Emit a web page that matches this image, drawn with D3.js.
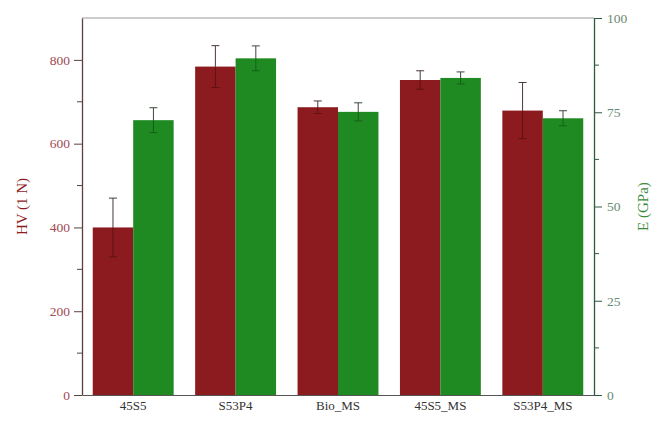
<!DOCTYPE html>
<html>
<head>
<meta charset="utf-8">
<script src="https://cdn.jsdelivr.net/npm/d3@7"></script>
<style>
  html, body { margin: 0; padding: 0; background: #fff; }
  svg { display: block; font-family: "Liberation Serif", "DejaVu Serif", serif; }
</style>
</head>
<body>
<svg id="chart" width="657" height="422"></svg>
<script>
// Samples and measured values
const categories = ["45S5", "S53P4", "Bio_MS", "45S5_MS", "S53P4_MS"];
const hvValues = [400, 784, 687, 752, 679];     // Vickers hardness HV (1 N)
const hvErrors = [70, 50, 15, 22, 67];
const eValues = [72.9, 89.3, 75.1, 84.1, 73.4]; // Elastic modulus E (GPa)
const eErrors = [3.3, 3.3, 2.4, 1.6, 2.0];
const hvTicks = [0, 200, 400, 600, 800];
const hvMinorTicks = [100, 300, 500, 700];
const eTicks = [0, 25, 50, 75, 100];
const eMinorTicks = [12.5, 37.5, 62.5, 87.5];

const redColor = "#8c1b1f";
const greenColor = "#1f8a22";

const margin = { top: 18, right: 63, bottom: 27, left: 82 };
const width = 657, height = 422;
const innerW = width - margin.left - margin.right;
const innerH = height - margin.top - margin.bottom;

const svg = d3.select("#chart");
const g = svg.append("g").attr("transform", `translate(${margin.left},${margin.top})`);

const x = d3.scaleBand().domain(categories).range([0, innerW]).paddingInner(0.21).paddingOuter(0.105);
const xSub = d3.scaleBand().domain(["hv", "e"]).range([0, x.bandwidth()]).padding(0);
const yHV = d3.scaleLinear().domain([0, 900]).range([innerH, 0]);
const yE = d3.scaleLinear().domain([0, 100]).range([innerH, 0]);

// Frame top line
g.append("line")
  .attr("x1", 0).attr("x2", innerW).attr("y1", 0).attr("y2", 0)
  .attr("stroke", "#9a9a9a").attr("stroke-width", 1.2);

// Bars
const groups = g.selectAll(".grp").data(categories).join("g")
  .attr("transform", d => `translate(${x(d)},0)`);

groups.append("rect")
  .attr("x", xSub("hv")).attr("width", xSub.bandwidth())
  .attr("y", (d, i) => yHV(hvValues[i]))
  .attr("height", (d, i) => innerH - yHV(hvValues[i]))
  .attr("fill", redColor);

groups.append("rect")
  .attr("x", xSub("e")).attr("width", xSub.bandwidth())
  .attr("y", (d, i) => yE(eValues[i]))
  .attr("height", (d, i) => innerH - yE(eValues[i]))
  .attr("fill", greenColor);

// Error bars: the upper half stands above the bar, the lower half sits inside it
function errorBar(sel, cx, yTop, yMid, yBot, outer, inner) {
  sel.append("line").attr("x1", cx).attr("x2", cx).attr("y1", yTop).attr("y2", yMid)
    .attr("stroke", outer).attr("stroke-width", 1);
  sel.append("line").attr("x1", cx - 4).attr("x2", cx + 4).attr("y1", yTop).attr("y2", yTop)
    .attr("stroke", outer).attr("stroke-width", 1);
  sel.append("line").attr("x1", cx).attr("x2", cx).attr("y1", yMid).attr("y2", yBot)
    .attr("stroke", inner).attr("stroke-width", 1);
  sel.append("line").attr("x1", cx - 4).attr("x2", cx + 4).attr("y1", yBot).attr("y2", yBot)
    .attr("stroke", inner).attr("stroke-width", 1);
}
groups.each(function(d, i) {
  const sel = d3.select(this);
  const cHV = xSub("hv") + xSub.bandwidth() / 2;
  const cE = xSub("e") + xSub.bandwidth() / 2;
  errorBar(sel, cHV, yHV(hvValues[i] + hvErrors[i]), yHV(hvValues[i]), yHV(hvValues[i] - hvErrors[i]),
    "#4a3a3a", "#5e1216");
  errorBar(sel, cE, yE(eValues[i] + eErrors[i]), yE(eValues[i]), yE(eValues[i] - eErrors[i]),
    "#3a4a3a", "#166018");
});

// Left axis (HV)
const leftAxis = g.append("g")
  .call(d3.axisLeft(yHV).tickValues(hvTicks).tickSize(8).tickPadding(4).tickSizeOuter(0));
leftAxis.select(".domain").attr("stroke", "#5a4040").attr("stroke-width", 1.3);
leftAxis.selectAll(".tick line").attr("stroke", "#5a4040");
leftAxis.selectAll("text").attr("fill", "#a04a52").style("font-size", "13.5px")
  .style("font-family", "Liberation Serif, serif");
g.append("g").selectAll("line").data(hvMinorTicks).join("line")
  .attr("x1", -5).attr("x2", 0).attr("y1", d => yHV(d)).attr("y2", d => yHV(d))
  .attr("stroke", "#5a4040");

// Right axis (E)
const rightAxis = g.append("g").attr("transform", `translate(${innerW},0)`)
  .call(d3.axisRight(yE).tickValues(eTicks).tickSize(8).tickPadding(5).tickSizeOuter(0));
rightAxis.select(".domain").attr("stroke", "#2d5a40").attr("stroke-width", 1.3);
rightAxis.selectAll(".tick line").attr("stroke", "#2d5a40");
rightAxis.selectAll("text").attr("fill", "#6a8a70").style("font-size", "13.5px")
  .style("font-family", "Liberation Serif, serif");
g.append("g").attr("transform", `translate(${innerW},0)`)
  .selectAll("line").data(eMinorTicks).join("line")
  .attr("x1", 0).attr("x2", 5).attr("y1", d => yE(d)).attr("y2", d => yE(d))
  .attr("stroke", "#2d5a40");

// Bottom axis
const bottomAxis = g.append("g").attr("transform", `translate(0,${innerH})`)
  .call(d3.axisBottom(x).tickSize(0).tickPadding(6).tickSizeOuter(0));
bottomAxis.select(".domain").attr("stroke", "#555").attr("stroke-width", 1.2);
bottomAxis.selectAll("text").attr("fill", "#333").style("font-size", "13px")
  .style("font-family", "Liberation Serif, serif");

// Axis titles
svg.append("text")
  .attr("transform", `translate(24,${margin.top + innerH / 2}) rotate(-90)`)
  .attr("text-anchor", "middle").attr("dominant-baseline", "middle")
  .attr("fill", redColor).style("font-size", "15px")
  .text("HV (1 N)");
svg.append("text")
  .attr("transform", `translate(645,${margin.top + innerH / 2}) rotate(-90)`)
  .attr("text-anchor", "middle").attr("dominant-baseline", "middle")
  .attr("fill", "#3a8a3a").style("font-size", "15px")
  .text("E (GPa)");
</script>
</body>
</html>
